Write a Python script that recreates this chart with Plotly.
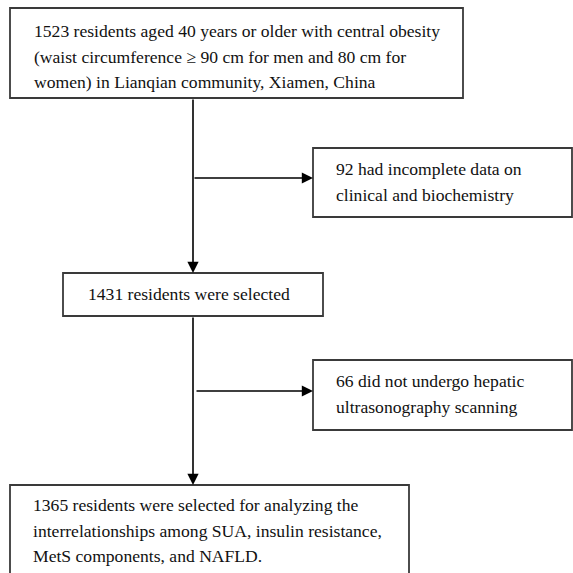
import plotly.graph_objects as go

# ---- content (text of each box, one list entry per line) ----
box_main1 = ["1523 residents aged 40 years or older with central obesity",
             "(waist circumference \u2265 90 cm for men and 80 cm for",
             "women) in Lianqian community, Xiamen, China"]
box_excl1 = ["92 had incomplete data on",
             "clinical and biochemistry"]
box_main2 = ["1431 residents were selected"]
box_excl2 = ["66 did not undergo hepatic",
             "ultrasonography scanning"]
box_main3 = ["1365 residents were selected for analyzing the",
             "interrelationships among SUA, insulin resistance,",
             "MetS components, and NAFLD."]
counts = {"enrolled": 1523, "excluded_data": 92, "selected": 1431,
          "excluded_us": 66, "final": 1365}

# ---- layout geometry (pixel space, y downward) ----
W = H = 573
boxes = [
    # (lines, x0, y0, x1, y1, text_x, first_line_y, line_step)
    (box_main1, 10, 8, 463, 98, 32, 31, 25.5),
    (box_excl1, 313, 148, 572, 217, 334, 169, 26),
    (box_main2, 63, 273, 323, 316, 86, 294, 26),
    (box_excl2, 313, 360, 572, 430, 334, 381, 26),
    (box_main3, 10, 485, 409, 600, 31, 505, 25.5),
]
spine_x = 193
arrows = [
    # (x_tail, y_tail, x_head, y_head)
    (spine_x, 98, spine_x, 273),
    (spine_x, 178, 313, 178),
    (spine_x, 316, spine_x, 485),
    (spine_x + 2, 391, 313, 391),
]

FONT = "Liberation Serif, Times New Roman, serif"
fig = go.Figure()
shapes = []
annotations = []

for lines, x0, y0, x1, y1, tx, ly, step in boxes:
    shapes.append(dict(type="rect", xref="x", yref="y", x0=x0, y0=y0, x1=x1, y1=y1,
                       line=dict(color="#3a3a3a", width=1.8), fillcolor="rgba(0,0,0,0)"))
    for i, t in enumerate(lines):
        annotations.append(dict(x=tx, y=ly + i * step, xref="x", yref="y", text=t,
                                showarrow=False, xanchor="left", yanchor="middle",
                                font=dict(family=FONT, size=17.6, color="#111111")))

for xt, yt, xh, yh in arrows:
    annotations.append(dict(x=xh, y=yh, ax=xt, ay=yt, xref="x", yref="y",
                            axref="x", ayref="y", text="", showarrow=True,
                            arrowhead=2, arrowsize=1.4, arrowwidth=1.6,
                            arrowcolor="#000000", standoff=0, startstandoff=0))

fig.add_trace(go.Scatter(x=[0, W], y=[0, H], mode="markers",
                         marker=dict(opacity=0), hoverinfo="skip", showlegend=False))

fig.update_layout(
    width=W, height=H, margin=dict(l=0, r=0, t=0, b=0),
    paper_bgcolor="white", plot_bgcolor="white",
    xaxis=dict(range=[0, W], visible=False, fixedrange=True),
    yaxis=dict(range=[H, 0], visible=False, fixedrange=True),
    shapes=shapes, annotations=annotations, showlegend=False,
)

fig.write_html("out.html", config={"displayModeBar": False},
               post_script="document.body.style.margin='0';document.body.style.overflow='hidden';")
